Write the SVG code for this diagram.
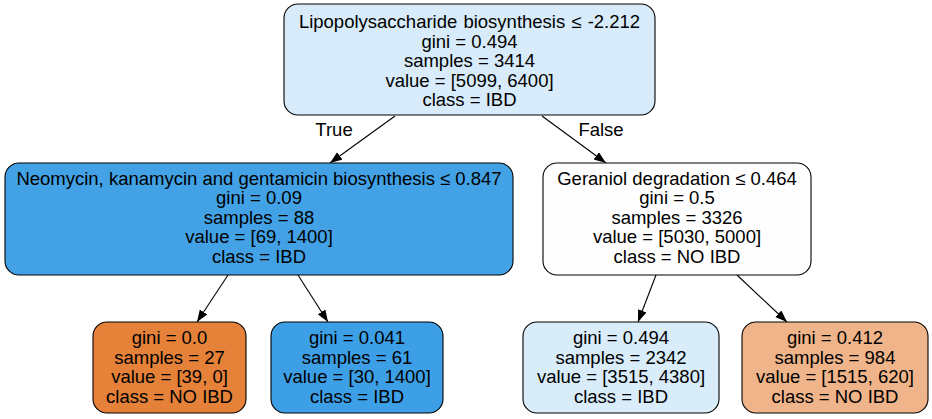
<svg xmlns="http://www.w3.org/2000/svg" width="932" height="419" viewBox="0 0 932 419">
<style>
.n{stroke:#000;stroke-width:1.1}
text{font-family:"Liberation Sans",Arial,sans-serif;font-size:18.5px;fill:#000;text-anchor:middle}
.e{stroke:#000;stroke-width:1.1;fill:none}
</style>
<defs>
<marker id="ah" markerWidth="12" markerHeight="10" refX="12" refY="4.5" orient="auto" markerUnits="userSpaceOnUse">
<path d="M0,0 L12,4.5 L0,9 Z" fill="#000"/>
</marker>
</defs>
<rect width="932" height="419" fill="#fff"/>
<g id="connectors">
<line class="e" x1="395" y1="116" x2="330" y2="163" marker-end="url(#ah)"/>
<line class="e" x1="542" y1="116" x2="606" y2="163" marker-end="url(#ah)"/>
<line class="e" x1="228" y1="275" x2="197" y2="322" marker-end="url(#ah)"/>
<line class="e" x1="298" y1="275" x2="328" y2="322" marker-end="url(#ah)"/>
<line class="e" x1="656" y1="275" x2="638" y2="322" marker-end="url(#ah)"/>
<line class="e" x1="737" y1="275" x2="787" y2="322" marker-end="url(#ah)"/>
<text x="334" y="136">True</text>
<text x="601" y="136">False</text>
</g>
<g id="node0">
<rect class="n" x="284" y="4" width="371" height="111" rx="14" fill="#d7ebfa"/>
<text x="469.5" y="28" word-spacing="1">Lipopolysaccharide biosynthesis ≤ -2.212</text>
<text x="469.5" y="47.5">gini = 0.494</text>
<text x="469.5" y="67">samples = 3414</text>
<text x="469.5" y="86.5">value = [5099, 6400]</text>
<text x="469.5" y="106">class = IBD</text>
</g>
<g id="node1">
<rect class="n" x="5" y="163" width="508" height="112" rx="14" fill="#43a2e6"/>
<text x="259" y="184.5">Neomycin, kanamycin and gentamicin biosynthesis ≤ 0.847</text>
<text x="259" y="204">gini = 0.09</text>
<text x="259" y="223.5">samples = 88</text>
<text x="259" y="243">value = [69, 1400]</text>
<text x="259" y="262.5">class = IBD</text>
</g>
<g id="node4">
<rect class="n" x="543" y="163" width="268" height="112" rx="14" fill="#fffefe"/>
<text x="677" y="184.5">Geraniol degradation ≤ 0.464</text>
<text x="677" y="204">gini = 0.5</text>
<text x="677" y="223.5">samples = 3326</text>
<text x="677" y="243">value = [5030, 5000]</text>
<text x="677" y="262.5">class = NO IBD</text>
</g>
<g id="node2">
<rect class="n" x="93" y="322" width="153" height="91" rx="14" fill="#e58139"/>
<text x="169.5" y="344">gini = 0.0</text>
<text x="169.5" y="363.5">samples = 27</text>
<text x="169.5" y="383">value = [39, 0]</text>
<text x="169.5" y="402.5">class = NO IBD</text>
</g>
<g id="node3">
<rect class="n" x="271" y="322" width="172" height="91" rx="14" fill="#3d9fe6"/>
<text x="357" y="344">gini = 0.041</text>
<text x="357" y="363.5">samples = 61</text>
<text x="357" y="383">value = [30, 1400]</text>
<text x="357" y="402.5">class = IBD</text>
</g>
<g id="node5">
<rect class="n" x="523" y="322" width="196" height="91" rx="14" fill="#d8ecfa"/>
<text x="621" y="344">gini = 0.494</text>
<text x="621" y="363.5">samples = 2342</text>
<text x="621" y="383">value = [3515, 4380]</text>
<text x="621" y="402.5">class = IBD</text>
</g>
<g id="node6">
<rect class="n" x="742" y="322" width="186" height="91" rx="14" fill="#f0b48a"/>
<text x="835" y="344">gini = 0.412</text>
<text x="835" y="363.5">samples = 984</text>
<text x="835" y="383">value = [1515, 620]</text>
<text x="835" y="402.5">class = NO IBD</text>
</g>
</svg>
